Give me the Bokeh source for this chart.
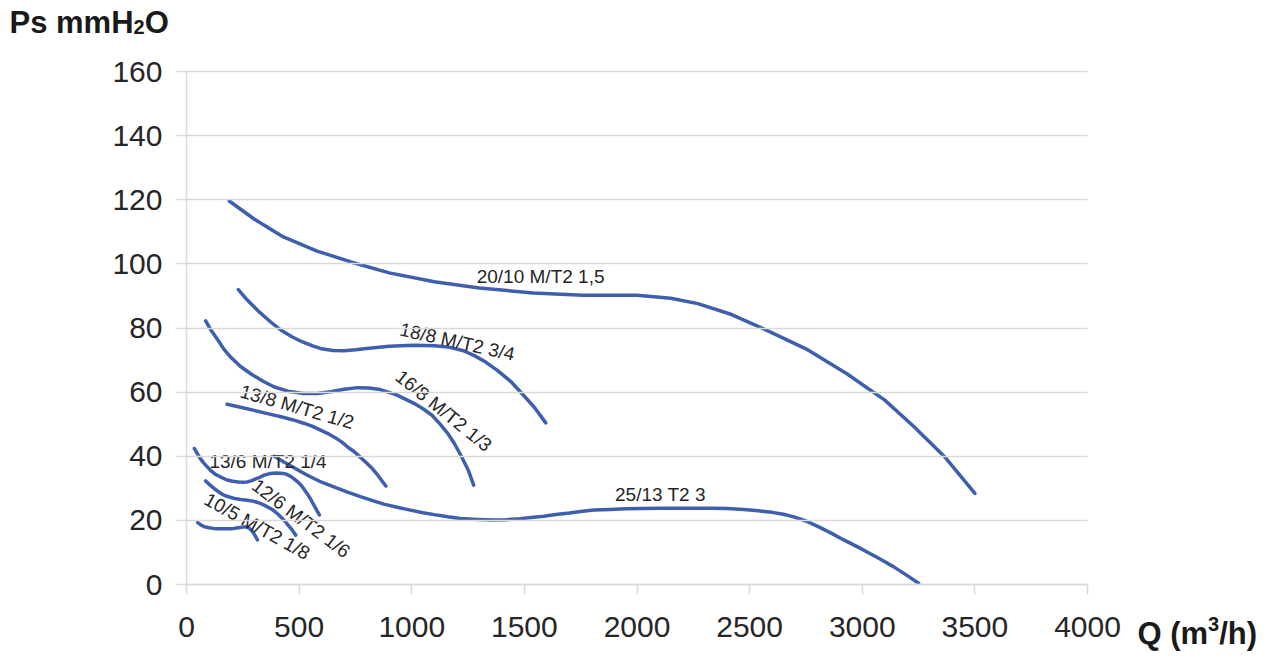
import math
from bokeh.plotting import figure
from bokeh.models import Range1d, FixedTicker, Label
from bokeh.core.properties import value
from bokeh.embed import file_html
from bokeh.resources import INLINE

# ---------------- data ----------------
x_ticks = [0, 500, 1000, 1500, 2000, 2500, 3000, 3500, 4000]
y_ticks = [0, 20, 40, 60, 80, 100, 120, 140, 160]

q_20_10 = [190, 300, 430, 580, 730, 900, 1100, 1300, 1540, 1760, 2000, 2150, 2270, 2420, 2560, 2750, 2930, 3100, 3230, 3370, 3500]
p_20_10 = [119.6, 114.0, 108.4, 104.0, 100.6, 97.2, 94.4, 92.5, 90.9, 90.2, 90.2, 89.3, 87.6, 84.2, 79.8, 73.5, 65.8, 57.5, 49.2, 39.5, 28.4]

q_18_8 = [230, 270, 320, 370, 420, 470, 510, 560, 600, 650, 700, 750, 800, 900, 1010, 1100, 1160, 1230, 1280, 1330, 1380, 1440, 1490, 1545, 1595]
p_18_8 = [92.0, 88.7, 85.2, 82.1, 79.3, 77.2, 75.8, 74.4, 73.5, 73.0, 72.9, 73.2, 73.6, 74.3, 74.6, 74.5, 74.1, 72.9, 71.3, 69.3, 66.8, 63.3, 59.5, 55.2, 50.4]

q_16_8 = [85, 110, 140, 165, 195, 240, 290, 340, 390, 450, 520, 580, 640, 700, 760, 810, 860, 930, 1010, 1050, 1090, 1125, 1160, 1190, 1220, 1250, 1275]
p_16_8 = [82.2, 79.2, 76.2, 73.5, 71.0, 68.0, 65.5, 63.4, 61.6, 60.3, 59.6, 59.6, 60.1, 60.9, 61.4, 61.3, 60.8, 59.2, 56.5, 54.8, 52.8, 50.1, 47.1, 43.9, 40.0, 35.8, 31.0]

q_13_8 = [180, 240, 300, 360, 420, 470, 520, 560, 600, 630, 660, 690, 715, 745, 770, 795, 820, 850, 885]
p_13_8 = [56.2, 55.3, 54.3, 53.3, 52.3, 51.4, 50.3, 49.3, 48.0, 47.0, 45.8, 44.4, 42.9, 41.4, 39.8, 38.2, 36.5, 34.0, 30.7]

q_13_6 = [35, 48, 60, 75, 92, 110, 130, 155, 180, 205, 230, 250, 270, 290, 310, 330, 345, 370, 400, 420, 440, 458, 475, 492, 510, 525, 540, 553, 565, 578, 590]
p_13_6 = [42.4, 40.8, 39.4, 38.0, 36.7, 35.4, 34.3, 33.4, 32.6, 32.2, 32.0, 31.9, 32.0, 32.4, 33.0, 33.6, 34.1, 34.6, 34.8, 34.7, 34.5, 33.9, 33.1, 32.1, 30.9, 29.4, 27.9, 26.4, 24.8, 23.2, 21.7]

q_12_6 = [85, 105, 125, 145, 165, 190, 215, 240, 270, 295, 320, 340, 360, 375, 390, 405, 420, 435, 450, 468, 485]
p_12_6 = [32.3, 31.0, 29.8, 28.8, 27.9, 27.3, 26.8, 26.5, 26.3, 26.0, 25.5, 24.9, 24.2, 23.6, 22.9, 22.0, 21.0, 19.9, 18.6, 17.1, 15.4]

q_10_5 = [50, 65, 80, 100, 120, 145, 165, 190, 210, 230, 250, 265, 280, 295, 305, 315]
p_10_5 = [19.3, 18.5, 18.0, 17.7, 17.5, 17.4, 17.4, 17.4, 17.5, 17.7, 17.9, 17.9, 17.5, 16.3, 15.2, 13.9]

q_25_13 = [390, 430, 470, 510, 550, 600, 660, 715, 772, 830, 880, 940, 994, 1050, 1100, 1160, 1216, 1290, 1364, 1420, 1480, 1530, 1586, 1640, 1700, 1750, 1808, 1880, 1950, 2020, 2100, 2180, 2250, 2330, 2400, 2474, 2540, 2600, 2650, 2696, 2750, 2800, 2860, 2918, 2975, 3030, 3085, 3140, 3195, 3250]
p_25_13 = [40.0, 38.3, 36.7, 35.1, 33.6, 31.9, 30.3, 28.8, 27.4, 26.1, 25.0, 24.0, 23.2, 22.4, 21.8, 21.1, 20.6, 20.3, 20.1, 20.2, 20.5, 20.9, 21.3, 21.8, 22.3, 22.8, 23.2, 23.4, 23.6, 23.7, 23.8, 23.8, 23.8, 23.8, 23.7, 23.4, 23.0, 22.5, 21.9, 21.1, 19.8, 18.2, 16.1, 13.9, 11.9, 9.8, 7.7, 5.5, 3.0, 0.4]

curve_names = ["20/10 M/T2 1,5", "18/8 M/T2 3/4", "16/8 M/T2 1/3", "13/8 M/T2 1/2",
               "13/6 M/T2 1/4", "12/6 M/T2 1/6", "10/5 M/T2 1/8", "25/13 T2 3"]
label_q = [1572, 1202, 1142, 491, 362, 509, 314, 2104]
label_p = [96.0, 75.7, 54.2, 55.4, 38.5, 20.6, 18.2, 28.2]
label_angle_deg = [0, -12.6, -39, -16, 0, -37, -29, 0]

# axis titles, split for the sub/superscript digit: (text, is_small)
y_title_parts = [("Ps mmH", False), ("2", True), ("O", False)]
x_title_parts = [("Q (m", False), ("3", True), ("/h)", False)]

# ---------------- styling / layout ----------------
BLUE = "#3E5FAD"
GRID = "#d9d9d9"
TXT = "#262626"
FONT = "Liberation Sans"

W, H = 1268, 652
# where the 0..4000 x 0..160 plotting area sits on the canvas (pixels)
FRAME_L, FRAME_R, FRAME_T, FRAME_B = 186, 1087, 71, 584
SX = 4000.0 / (FRAME_R - FRAME_L)
SY = 160.0 / (FRAME_B - FRAME_T)

# the frame fills the whole canvas so that the titles can be placed outside the 0..4000 area
p = figure(width=W, height=H,
           x_range=Range1d(-FRAME_L * SX, 4000 + (W - FRAME_R) * SX),
           y_range=Range1d(-(H - FRAME_B) * SY, 160 + FRAME_T * SY),
           output_backend="svg", toolbar_location=None,
           min_border_left=0, min_border_right=0, min_border_top=0, min_border_bottom=0)
p.outline_line_color = None
p.background_fill_color = "white"
p.border_fill_color = "white"
p.xgrid.visible = False
p.ygrid.visible = False

p.xaxis.fixed_location = 0
p.yaxis.fixed_location = 0
p.xaxis.bounds = (0, 4000)
p.yaxis.bounds = (0, 160)
p.xaxis.ticker = FixedTicker(ticks=x_ticks)
p.yaxis.ticker = FixedTicker(ticks=y_ticks)
for ax in (p.xaxis, p.yaxis):
    ax.axis_line_color = GRID
    ax.axis_line_width = 1.5
    ax.major_tick_line_color = GRID
    ax.major_tick_line_width = 1.5
    ax.major_tick_out = 10
    ax.major_tick_in = 0
    ax.minor_tick_line_color = None
    ax.major_label_text_font = FONT
    ax.major_label_text_font_size = "30px"
    ax.major_label_text_color = TXT
p.xaxis.major_label_standoff = 22
p.yaxis.major_label_standoff = 14
# horizontal gridlines: y-axis ticks that run across the 0..4000 area
p.yaxis.major_tick_in = FRAME_R - FRAME_L

series = [(q_20_10, p_20_10), (q_18_8, p_18_8), (q_16_8, p_16_8), (q_13_8, p_13_8),
          (q_13_6, p_13_6), (q_12_6, p_12_6), (q_10_5, p_10_5), (q_25_13, p_25_13)]
for qs, ps in series:
    p.line(qs, ps, line_color=BLUE, line_width=3.5, line_cap="round", line_join="round")

p.text(x=label_q, y=label_p, text=curve_names,
       angle=[math.radians(a) for a in label_angle_deg],
       text_align="center", text_baseline="middle",
       text_font=value(FONT), text_font_size="19px", text_color=TXT)

# ---------------- axis titles ----------------
ADV = {"P": .667, "s": .556, " ": .278, "m": .889, "H": .722, "O": .778, "Q": .778,
       "(": .333, ")": .333, "/": .278, "h": .611, "2": .556, "3": .556}


def put_title(parts, x0, baseline, size, small_size, small_shift):
    x = x0
    for txt, small in parts:
        fs = small_size if small else size
        yb = baseline + small_shift if small else baseline
        p.add_layout(Label(x=(x - FRAME_L) * SX, y=(FRAME_B - yb) * SY, text=txt,
                           text_align="left", text_baseline="alphabetic",
                           text_font=FONT, text_font_size=f"{fs}px",
                           text_font_style="bold", text_color="#1a1a1a"))
        x += sum(ADV.get(c, .6) for c in txt) * fs


put_title(y_title_parts, 9, 22, 31, 20, 4)
put_title(x_title_parts, 1137, 633, 31, 20, -10)

open("out.html", "w").write(file_html(p, INLINE))
